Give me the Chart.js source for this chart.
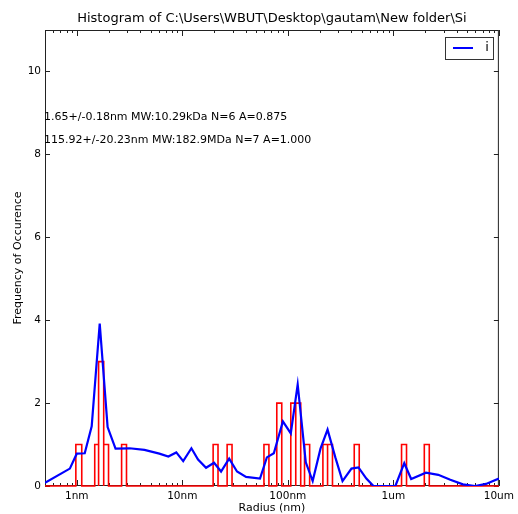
<!DOCTYPE html>
<html><head><meta charset="utf-8">
<script src="https://cdn.jsdelivr.net/npm/chart.js@4/dist/chart.umd.min.js"></script>
<style>html,body{margin:0;padding:0;background:#fff}#wrap{width:518px;height:514px;position:relative}</style>
</head><body><div id="wrap"><canvas id="c" width="518" height="514"></canvas></div>
<script>
const titleText = 'Histogram of C:\\Users\\WBUT\\Desktop\\gautam\\New folder\\Si';
const xAxisTitle = 'Radius (nm)';
const yAxisTitle = 'Frequency of Occurence';
const seriesName = 'i';
const annotations = ['1.65+/-0.18nm MW:10.29kDa N=6 A=0.875', '115.92+/-20.23nm MW:182.9MDa N=7 A=1.000'];
const annotationY = [8.9, 8.35];
const xMin = 0.5, xMax = 10000, yMin = 0, yMax = 11;
const xTickValues = [1, 10, 100, 1000, 10000];
const xTickLabels = ['1nm', '10nm', '100nm', '1um', '10um'];
const yTickValues = [0, 2, 4, 6, 8, 10];

// fitted distribution curve (blue)
const fitRadius = [0.5, 0.86, 1.0, 1.19, 1.385, 1.65, 1.96, 2.33, 3.16, 4.38, 6.06, 7.38, 8.77, 10.2, 12.2, 14.1, 16.8, 20.0, 23.3, 27.8, 33.0, 40.2, 54.5, 63.3, 73.7, 89.8, 106.7, 124, 148, 172, 204, 238, 282, 330, 401, 467, 555, 648, 1045, 1269, 1475, 2036, 2665, 3465, 4566, 5943, 7547, 10000];
const fitFreq   = [0.08, 0.42, 0.78, 0.79, 1.44, 3.92, 1.42, 0.90, 0.91, 0.87, 0.78, 0.71, 0.81, 0.60, 0.91, 0.64, 0.44, 0.56, 0.35, 0.66, 0.35, 0.22, 0.18, 0.69, 0.79, 1.56, 1.27, 2.45, 0.57, 0.12, 0.90, 1.36, 0.69, 0.12, 0.42, 0.45, 0.18, 0.0, 0.0, 0.55, 0.17, 0.32, 0.27, 0.15, 0.04, 0.0, 0.05, 0.18];

// histogram bins (red)
const binLeft  = [0.98, 1.48, 1.61, 1.80, 2.66, 19.6, 26.6, 59.4, 78.6, 106.7, 118.9, 144, 215, 238, 426, 1196, 1965];
const binRight = [1.115, 1.61, 1.80, 2.00, 2.96, 21.8, 29.6, 66.2, 87.6, 118.9, 132.5, 161, 238, 265, 475, 1333, 2190];
const binCount = [1, 1, 3, 1, 1, 1, 1, 1, 2, 2, 2, 1, 1, 1, 1, 1, 1];

const histOutline = [{x: xMin, y: 0}];
binLeft.forEach((l, i) => {
  histOutline.push({x: l, y: 0}, {x: l, y: binCount[i]}, {x: binRight[i], y: binCount[i]}, {x: binRight[i], y: 0});
});
histOutline.push({x: xMax, y: 0});
const fitPoints = fitRadius.map((r, i) => ({x: r, y: fitFreq[i]}));

const FONT = "'DejaVu Sans', 'Liberation Sans', sans-serif";

const decor = {
  id: 'decor',
  beforeDatasetsDraw(chart) {
    const {ctx, chartArea: a, scales: {x, y}} = chart;
    ctx.save();
    ctx.strokeStyle = '#222';
    ctx.lineWidth = 1;
    ctx.strokeRect(a.left + 0.5, a.top + 0.5, a.right - a.left - 1, a.bottom - a.top - 1);
    for (let d = 0.1; d <= xMax; d *= 10) {
      for (let m = 1; m <= 9; m++) {
        const v = m * d;
        if (v < xMin * 0.999 || v > xMax * 1.001) continue;
        const px = Math.round(x.getPixelForValue(v)) + 0.5;
        const len = m === 1 ? 6 : 3;
        ctx.beginPath();
        ctx.moveTo(px, a.bottom); ctx.lineTo(px, a.bottom - len);
        ctx.moveTo(px, a.top); ctx.lineTo(px, a.top + len);
        ctx.stroke();
      }
    }
    yTickValues.forEach(v => {
      const py = Math.round(y.getPixelForValue(v)) + 0.5;
      ctx.beginPath();
      ctx.moveTo(a.left, py); ctx.lineTo(a.left + 5, py);
      ctx.moveTo(a.right, py); ctx.lineTo(a.right - 5, py);
      ctx.stroke();
    });
    ctx.restore();
  },
  afterDraw(chart) {
    const {ctx, chartArea: a, scales: {x, y}} = chart;
    ctx.save();
    ctx.fillStyle = '#000';
    ctx.font = '13px ' + FONT;
    ctx.textAlign = 'center';
    ctx.textBaseline = 'middle';
    ctx.fillText(titleText, (a.left + a.right) / 2, 19);
    ctx.font = '11px ' + FONT;
    ctx.fillText(xAxisTitle, (a.left + a.right) / 2, 508);
    ctx.save();
    ctx.translate(18, (a.top + a.bottom) / 2);
    ctx.rotate(-Math.PI / 2);
    ctx.fillText(yAxisTitle, 0, 0);
    ctx.restore();
    ctx.font = '11px ' + FONT;
    ctx.textAlign = 'left';
    annotations.forEach((t, i) => {
      ctx.fillText(t, x.getPixelForValue(xMin) - 1, y.getPixelForValue(annotationY[i]));
    });
    const lx = 445, ly = 37, lw = 48, lh = 22;
    ctx.fillStyle = '#fff';
    ctx.fillRect(lx, ly, lw, lh);
    ctx.strokeStyle = '#333';
    ctx.lineWidth = 1;
    ctx.strokeRect(lx + 0.5, ly + 0.5, lw, lh);
    ctx.strokeStyle = '#0000ff';
    ctx.lineWidth = 2;
    ctx.beginPath();
    ctx.moveTo(453, 48); ctx.lineTo(473, 48);
    ctx.stroke();
    ctx.fillStyle = '#000';
    ctx.font = '13px ' + FONT;
    ctx.textAlign = 'center';
    ctx.fillText(seriesName, 487, 48);
    ctx.restore();
  }
};

new Chart(document.getElementById('c'), {
  type: 'scatter',
  data: {
    datasets: [
      {label: seriesName, data: fitPoints, showLine: true, borderColor: '#0000ff', borderWidth: 2.2, pointRadius: 0, tension: 0, order: 0},
      {label: 'hist', data: histOutline, showLine: true, borderColor: '#ff0000', borderWidth: 1.6, pointRadius: 0, tension: 0, order: 1, clip: false}
    ]
  },
  options: {
    responsive: false,
    animation: false,
    events: [],
    layout: {padding: {top: 30, right: 18, bottom: 0, left: 0}},
    plugins: {legend: {display: false}, tooltip: {enabled: false}, title: {display: false}},
    scales: {
      x: {
        type: 'logarithmic', min: xMin, max: xMax,
        grid: {display: false, drawTicks: false}, border: {display: false},
        afterBuildTicks: s => { s.ticks = xTickValues.map(v => ({value: v})); },
        afterFit: s => { s.height = 28; },
        ticks: {autoSkip: false, maxRotation: 0, padding: 4, color: '#000', font: {family: FONT, size: 10.5},
          callback: v => { const i = xTickValues.indexOf(v); return i >= 0 ? xTickLabels[i] : ''; }}
      },
      y: {
        type: 'linear', min: yMin, max: yMax,
        grid: {display: false, drawTicks: false}, border: {display: false},
        afterBuildTicks: s => { s.ticks = yTickValues.map(v => ({value: v})); },
        afterFit: s => { s.width = 45; },
        ticks: {padding: 4, color: '#000', font: {family: FONT, size: 10.5}}
      }
    }
  },
  plugins: [decor]
});
</script>
</body></html>
